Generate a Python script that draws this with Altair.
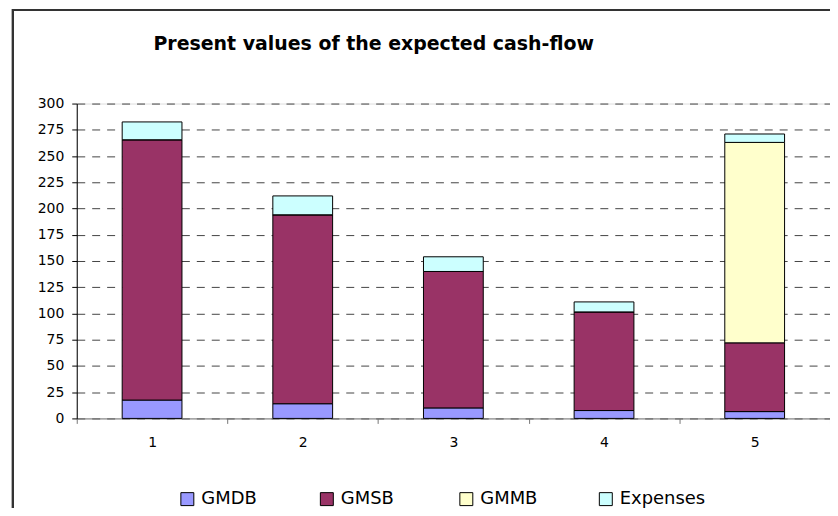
import altair as alt
import pandas as pd

categories = ["1", "2", "3", "4", "5"]
series_names = ["GMDB", "GMSB", "GMMB", "Expenses"]
gmdb = [17.5, 14, 10, 7.5, 6.5]
gmsb = [248, 180, 130, 94, 65.5]
gmmb = [0, 0, 0, 0, 191]
expenses = [17, 18, 14, 9.5, 8]
series_colors = ["#9999FF", "#993366", "#FFFFCC", "#CCFFFF"]
y_ticks = [0, 25, 50, 75, 100, 125, 150, 175, 200, 225, 250, 275, 300]
title_text = "Present values of the expected cash-flow"

rows = []
for s_idx, (name, vals) in enumerate(zip(series_names, [gmdb, gmsb, gmmb, expenses])):
    for cat, v in zip(categories, vals):
        rows.append({"cat": cat, "series": name, "value": v, "order": s_idx})
df = pd.DataFrame(rows)

FONT = "DejaVu Sans"

bars = alt.Chart(df).mark_bar(size=60, stroke="black", strokeWidth=1).encode(
    x=alt.X("cat:N", sort=categories, title=None,
            scale=alt.Scale(paddingInner=0, paddingOuter=0),
            axis=alt.Axis(labelAngle=0, tickBand="extent", grid=False,
                          domainColor="#777777", tickColor="#777777",
                          tickSize=5, labelPadding=12, labelFont=FONT,
                          labelFontSize=14, labelColor="black")),
    y=alt.Y("value:Q", stack="zero", title=None,
            scale=alt.Scale(domain=[0, 300], nice=False),
            axis=alt.Axis(values=y_ticks, grid=True, gridDash=[8, 7],
                          gridColor="#444444", gridWidth=1,
                          domainColor="black", tickColor="black",
                          tickSize=5, labelPadding=8, labelFont=FONT,
                          labelFontSize=14, labelColor="black")),
    color=alt.Color("series:N", sort=series_names,
                    scale=alt.Scale(domain=series_names, range=series_colors),
                    legend=alt.Legend(title=None, orient="none", direction="horizontal",
                                      legendX=102, legendY=388, symbolType="square",
                                      symbolSize=169, symbolStrokeColor="black",
                                      symbolStrokeWidth=1, symbolOpacity=1,
                                      labelFont=FONT, labelFontSize=18,
                                      labelColor="black", labelOffset=5,
                                      gridAlign="all", columnPadding=31,
                                      padding=0)),
    order=alt.Order("order:Q", sort="ascending"),
)

title_mark = alt.Chart(pd.DataFrame({"t": [title_text]})).mark_text(
    font=FONT, fontSize=19, fontWeight="bold", color="black",
    align="center", baseline="alphabetic"
).encode(text="t:N", x=alt.value(298), y=alt.value(-54))

frame = alt.Chart(df).mark_rect(fill=None, stroke="#333333", strokeWidth=2).encode(
    x=alt.value(-64), x2=alt.value(900), y=alt.value(-94), y2=alt.value(600)
)

chart = alt.layer(bars, title_mark, frame).properties(
    width=756, height=316,
    autosize=alt.AutoSizeParams(type="none"),
    padding={"left": 69, "top": 95, "right": 0, "bottom": 89},
).configure_view(stroke=None).configure(background="white")

chart.save("out.html", embed_options={"renderer": "svg", "actions": False})
